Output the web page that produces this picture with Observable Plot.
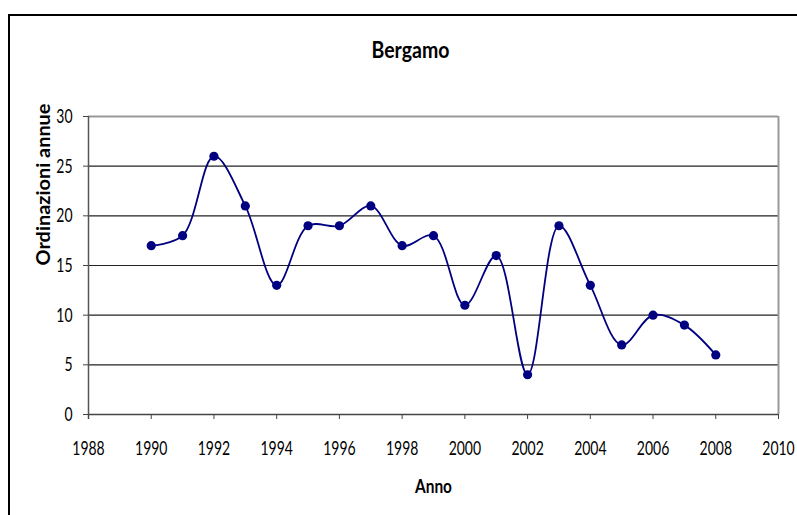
<!DOCTYPE html>
<html>
<head>
<meta charset="utf-8">
<script src="https://cdn.jsdelivr.net/npm/d3@7"></script>
<script src="https://cdn.jsdelivr.net/npm/@observablehq/plot@0.6"></script>
<style>
  html, body { margin: 0; padding: 0; background: #fff; overflow: hidden; width: 797px; height: 515px; }
  #wrap { position: relative; width: 797px; height: 515px; }
  #frame { position: absolute; left: 8px; top: 14px; width: 900px; height: 600px; border: 2px solid #000; box-sizing: border-box; pointer-events: none; }
  #chart { position: absolute; left: 0; top: 0; }
</style>
</head>
<body>
<div id="wrap">
  <div id="chart"></div>
  <div id="frame"></div>
</div>
<script>
const title = "Bergamo";
const xLabel = "Anno";
const yLabel = "Ordinazioni annue";
const years = [1990, 1991, 1992, 1993, 1994, 1995, 1996, 1997, 1998, 1999, 2000, 2001, 2002, 2003, 2004, 2005, 2006, 2007, 2008];
const values = [17, 18, 26, 21, 13, 19, 19, 21, 17, 18, 11, 16, 4, 19, 13, 7, 10, 9, 6];
const xTicks = [1988, 1990, 1992, 1994, 1996, 1998, 2000, 2002, 2004, 2006, 2008, 2010];
const yTicks = [0, 5, 10, 15, 20, 25, 30];
const gridLines = [5, 10, 15, 20, 25];

const data = years.map((y, i) => ({year: y, value: values[i]}));
const font = "Lato, 'Open Sans', sans-serif";

const chart = Plot.plot({
  width: 797,
  height: 515,
  marginLeft: 88,
  marginRight: 19,
  marginTop: 116,
  marginBottom: 101,
  style: {fontFamily: font, fontSize: "20px", color: "#000", background: "transparent", overflow: "visible"},
  x: {domain: [1988, 2010], label: null},
  y: {domain: [0, 30], label: null},
  marks: [
    Plot.ruleY(gridLines, {stroke: "#222", strokeWidth: 1.2}),
    Plot.ruleY([30], {stroke: "#999", strokeWidth: 2}),
    Plot.ruleX([2010], {stroke: "#999", strokeWidth: 2}),
    Plot.ruleY([0], {stroke: "#444", strokeWidth: 1.5}),
    Plot.ruleX([1988], {y1: -0.5, y2: 30, stroke: "#555", strokeWidth: 1.5}),
    Plot.axisX({ticks: xTicks, tickSize: 5, tickPadding: 21, tickFormat: d => String(d), label: null, stroke: "#444", fontSize: 20}),
    Plot.axisY({ticks: yTicks, tickSize: 5, tickPadding: 11, label: null, stroke: "#444", fontSize: 20}),
    Plot.line(data, {x: "year", y: "value", curve: "catmull-rom", stroke: "#000080", strokeWidth: 1.8}),
    Plot.dot(data, {x: "year", y: "value", fill: "#000080", stroke: "none", r: 4.6}),
    Plot.text([title], {frameAnchor: "top", dx: -23, dy: -75, fontWeight: "bold", fontSize: 23}),
    Plot.text([xLabel], {frameAnchor: "bottom", dy: 78, fontWeight: "bold", fontSize: 19}),
    Plot.text([yLabel], {frameAnchor: "left", dx: -44, rotate: -90, fontWeight: "bold", fontSize: 18})
  ]
});
document.getElementById("chart").appendChild(chart);

// Narrow the glyphs to match the tall, condensed lettering of the reference
const targets = {[title]: 78, [xLabel]: 37, [yLabel]: 162};
chart.querySelectorAll("text").forEach(t => {
  const s = t.textContent;
  const target = targets[s] !== undefined ? targets[s] : s.length * 8.1;
  t.setAttribute("textLength", target);
  t.setAttribute("lengthAdjust", "spacingAndGlyphs");
});
</script>
</body>
</html>
